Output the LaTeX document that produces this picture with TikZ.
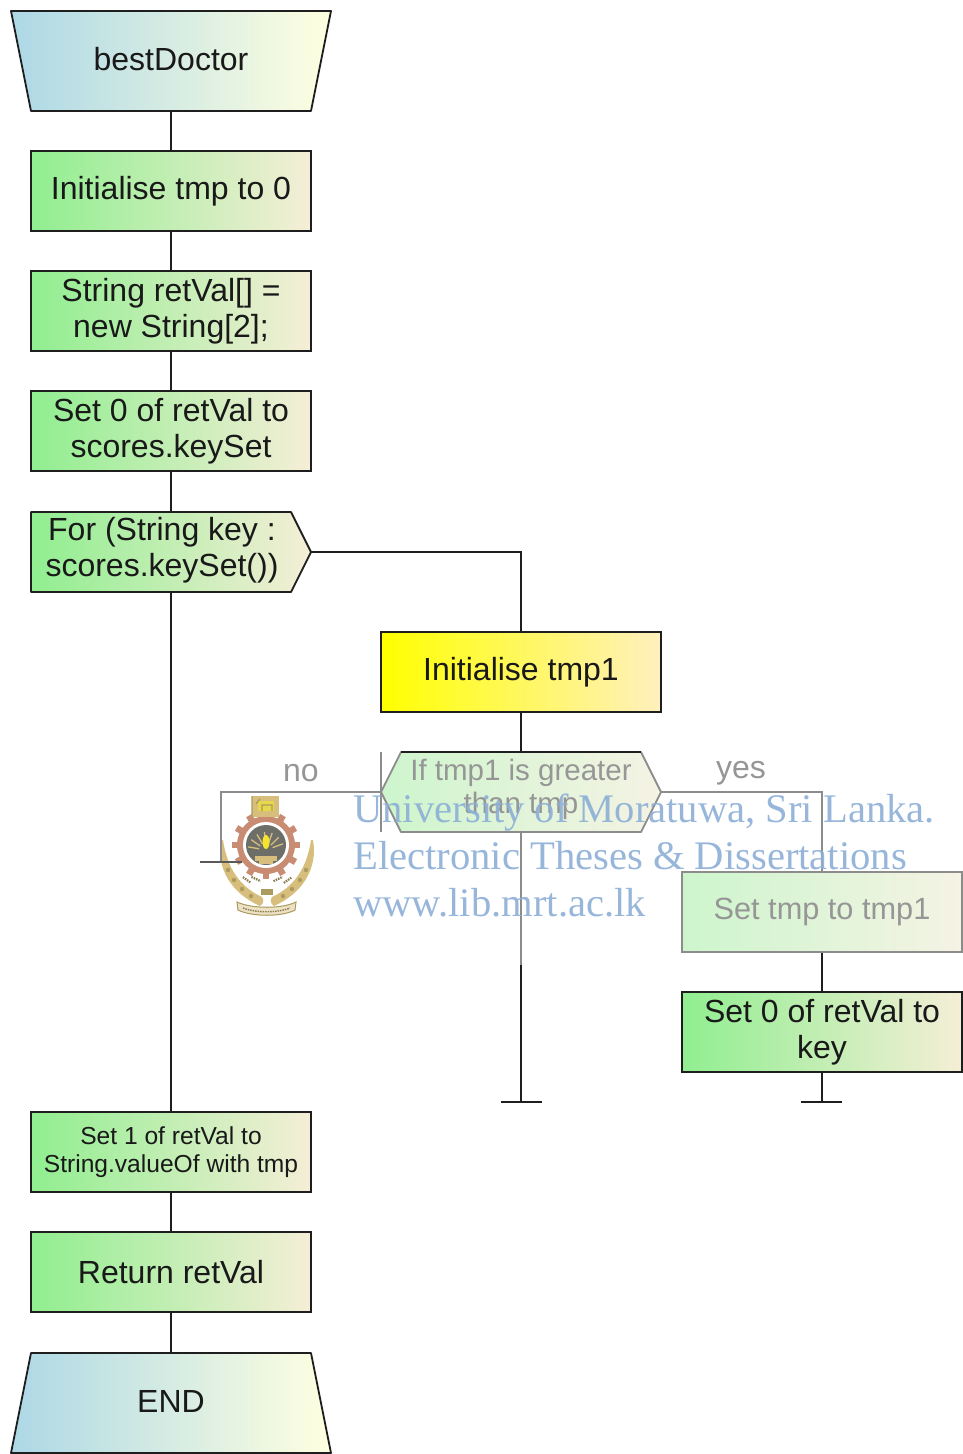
\documentclass[tikz,border=0pt]{standalone}
\usepackage{fontspec}
\setmainfont{Liberation Sans}
\newfontfamily\wmfont{Liberation Serif}
\definecolor{gA}{RGB}{144,238,144}
\definecolor{gB}{RGB}{245,238,215}
\definecolor{bA}{RGB}{173,216,230}
\definecolor{bB}{RGB}{255,255,224}
\definecolor{yB}{RGB}{255,240,190}
\definecolor{fgA}{RGB}{205,245,205}
\definecolor{fgB}{RGB}{245,243,228}
\definecolor{fln}{RGB}{140,140,140}
\definecolor{ftx}{RGB}{150,150,150}
\definecolor{wm}{RGB}{140,175,215}
\definecolor{lnk}{RGB}{30,30,30}
\definecolor{gearc}{RGB}{200,140,115}
\definecolor{goldc}{RGB}{215,190,125}
\definecolor{oliv}{RGB}{170,155,95}
\definecolor{darkc}{RGB}{110,110,105}
\tikzset{
  x=1pt,y=-1pt,
  lbl/.style={font=\fontsize{32}{36}\selectfont,align=center,text=black!90,inner sep=0},
  boxshape/.style={draw=lnk,line width=1.8pt,minimum width=280pt,minimum height=80pt,inner sep=0,
     left color=gA,right color=gB,align=center,text=black!90,font=\fontsize{32}{36}\selectfont},
  termfill/.style={draw=lnk,line width=1.8pt,left color=bA,right color=bB,line join=round},
  greenfill/.style={draw=lnk,line width=1.8pt,left color=gA,right color=gB,line join=round},
  link/.style={draw=lnk,line width=1.8pt},
  flink/.style={draw=fln,line width=1.8pt},
  ftext/.style={font=\fontsize{29.5}{33}\selectfont,text=ftx,align=center,inner sep=0},
  wmtext/.style={font=\wmfont\fontsize{40.6}{48}\selectfont,text=wm,anchor=base west,inner sep=0,opacity=.9},
}
\begin{document}
\begin{tikzpicture}
\useasboundingbox (0,0) rectangle (963,1454);
\fill[white] (0,0) rectangle (963,1454);

% named anchors for shapes drawn as paths
\coordinate (startB) at (171,111);
\coordinate (endT) at (171,1353);
\coordinate (forB) at (171,592);
\coordinate (forT) at (171,512);
\coordinate (forR) at (311,552);
\coordinate (ifT) at (521,752);
\coordinate (ifB) at (521,832);
\coordinate (ifL) at (381,792);
\coordinate (ifR) at (661,792);
\coordinate (elbowR0) at (521,552);
\coordinate (elbowNo) at (221,792);
\coordinate (noEnd) at (221,862);
\coordinate (noT1) at (200,862);
\coordinate (noT2) at (242,862);
\coordinate (elbowYes) at (822,792);
\coordinate (midEnd) at (521,1102);
\coordinate (midT1) at (501,1102);
\coordinate (midT2) at (542,1102);
\coordinate (rEnd) at (822,1102);
\coordinate (rT1) at (801,1102);
\coordinate (rT2) at (842,1102);
\coordinate (barT) at (381,752);
\coordinate (barB) at (381,832);
\coordinate (midFade) at (521,965);

% boxes
\node[boxshape] (init) at (171,191) {Initialise tmp to 0};
\node[boxshape] (ret) at (171,311) {String retVal[] =\\new String[2];};
\node[boxshape] (set0) at (171,431) {Set 0 of retVal to\\scores.keySet};
\node[boxshape,left color=yellow,right color=yB] (tmp1) at (521,672) {Initialise tmp1};
\node[boxshape,draw=fln,left color=fgA,right color=fgB,text=ftx,font=\fontsize{30.7}{34}\selectfont] (settmp) at (822,912) {Set tmp to tmp1};
\node[boxshape] (setkey) at (822,1032) {Set 0 of retVal to\\key};
\node[boxshape,font=\fontsize{24.6}{28}\selectfont] (set1) at (171,1152) {Set 1 of retVal to\\String.valueOf with tmp};
\node[boxshape] (retv) at (171,1272) {Return retVal};

% connectors
\draw[link] (startB) -- (init.north);
\draw[link] (init.south) -- (ret.north);
\draw[link] (ret.south) -- (set0.north);
\draw[link] (set0.south) -- (forT);
\draw[link] (forB) -- (set1.north);
\draw[link] (set1.south) -- (retv.north);
\draw[link] (retv.south) -- (endT);
\draw[link] (forR) -- (elbowR0) -- (tmp1.north);
\draw[link] (tmp1.south) -- (ifT);
\draw[flink] (ifB) -- (midFade);
\draw[link] (midFade) -- (midEnd);
\draw[link] (midT1) -- (midT2);
\draw[flink] (ifR) -- (elbowYes) -- (settmp.north);
\draw[link] (settmp.south) -- (setkey.north);
\draw[link] (setkey.south) -- (rEnd);
\draw[link] (rT1) -- (rT2);
\draw[flink,line width=1.2pt] (barT) -- (barB);

% path-drawn shapes
\path[termfill] (11,11) -- (331,11) -- (311,111) -- (31,111) -- cycle;
\node[lbl] (start) at (171,59) {bestDoctor};
\path[termfill] (31,1353) -- (311,1353) -- (331,1453) -- (11,1453) -- cycle;
\node[lbl] (endn) at (171,1401) {END};
\path[greenfill] (31,512) -- (291,512) -- (311,552) -- (291,592) -- (31,592) -- cycle;
\node[lbl] (forn) at (162,550) {For (String key :\\scores.keySet())};
\path[draw=fln,line width=1.8pt,left color=fgA,right color=fgB,line join=round] (401,752) -- (641,752) -- (661,792) -- (641,832) -- (401,832) -- (381,792) -- cycle;
\draw[lnk,line width=1.8pt] (401,752) -- (641,752);
\node[ftext] (ifn) at (521,789) {If tmp1 is greater\\than tmp};
\node[ftext,font=\fontsize{32}{36}\selectfont] (no) at (301,773) {no};
\node[ftext,font=\fontsize{32}{36}\selectfont] (yes) at (741,773) {yes};

% crest
\begin{scope}
  % laurel crescents
  \fill[goldc] (313,840) .. controls (318,868) and (303,893) .. (274,906) .. controls (270,903) and (270,900) .. (272,897) .. controls (294,887) and (307,868) .. (311,840) -- cycle;
  \fill[goldc] (221,840) .. controls (216,868) and (231,893) .. (260,906) .. controls (264,903) and (264,900) .. (262,897) .. controls (240,887) and (227,868) .. (223,840) -- cycle;
  \foreach \px/\py in {306/870,300/880,292/889,283/896,228/870,234/880,242/889,251/896}
    \fill[oliv] (\px,\py) circle (2.2);
  % gear
  \foreach \a in {0,30,...,330}
    \draw[gearc,line width=6.5pt] (266,845) ++(\a:26) -- ++(\a:8);
  \fill[gearc] (266,845) circle (29);
  \fill[white] (266,845) circle (23);
  \fill[darkc] (266,845) circle (20);
  \foreach \a in {190,215,...,350}
    \draw[goldc,line width=1.3pt] (266,850) ++(\a:7) -- ++(\a:11);
  \fill[goldc] (255,856) rectangle (277,861);
  \fill[goldc] (259,861) rectangle (273,864);
  \fill[yellow!70!goldc] (266,842) ellipse (3.5 and 7);
  % shield with lion
  \fill[goldc] (252,796) rectangle (279,817);
  \fill[goldc!60!yellow] (258,801) rectangle (274,811);
  \draw[oliv,line width=1.2pt] (256,804) -- (260,799) (262,811) -- (262,805) -- (272,805) -- (272,811) (252,796) -- (252,817);
  % script lines
  \foreach \px/\py/\r in {247/880/-35,256/879/-25,278/879/25,288/880/35}
    \draw[oliv!80!black,line width=2.2pt,dash pattern=on 1.5pt off 1pt,rotate around={\r:(\px,\py)}] (\px-5,\py) -- (\px+5,\py);
  \fill[oliv] (261,889) rectangle (273,895);
  % banner
  \draw[oliv,line width=1pt,fill=goldc!45] (237,902) .. controls (252,909) and (282,909) .. (296,902) -- (295,910) .. controls (282,917) and (252,917) .. (238,910) -- cycle;
  \draw[oliv!80!black,line width=1.4pt,dash pattern=on 1.5pt off 1pt] (243,908) .. controls (255,913) and (278,913) .. (290,908);
\end{scope}
\draw[flink] (ifL) -- (elbowNo) -- (noEnd);
\draw[flink,line width=1.5pt,draw=black!65] (noT1) -- (noT2);

% watermark
\node[wmtext] (wm1) at (353,822) {University of Moratuwa, Sri Lanka.};
\node[wmtext] (wm2) at (353,869) {Electronic Theses \& Dissertations};
\node[wmtext] (wm3) at (353,916) {www.lib.mrt.ac.lk};
\end{tikzpicture}
\end{document}
